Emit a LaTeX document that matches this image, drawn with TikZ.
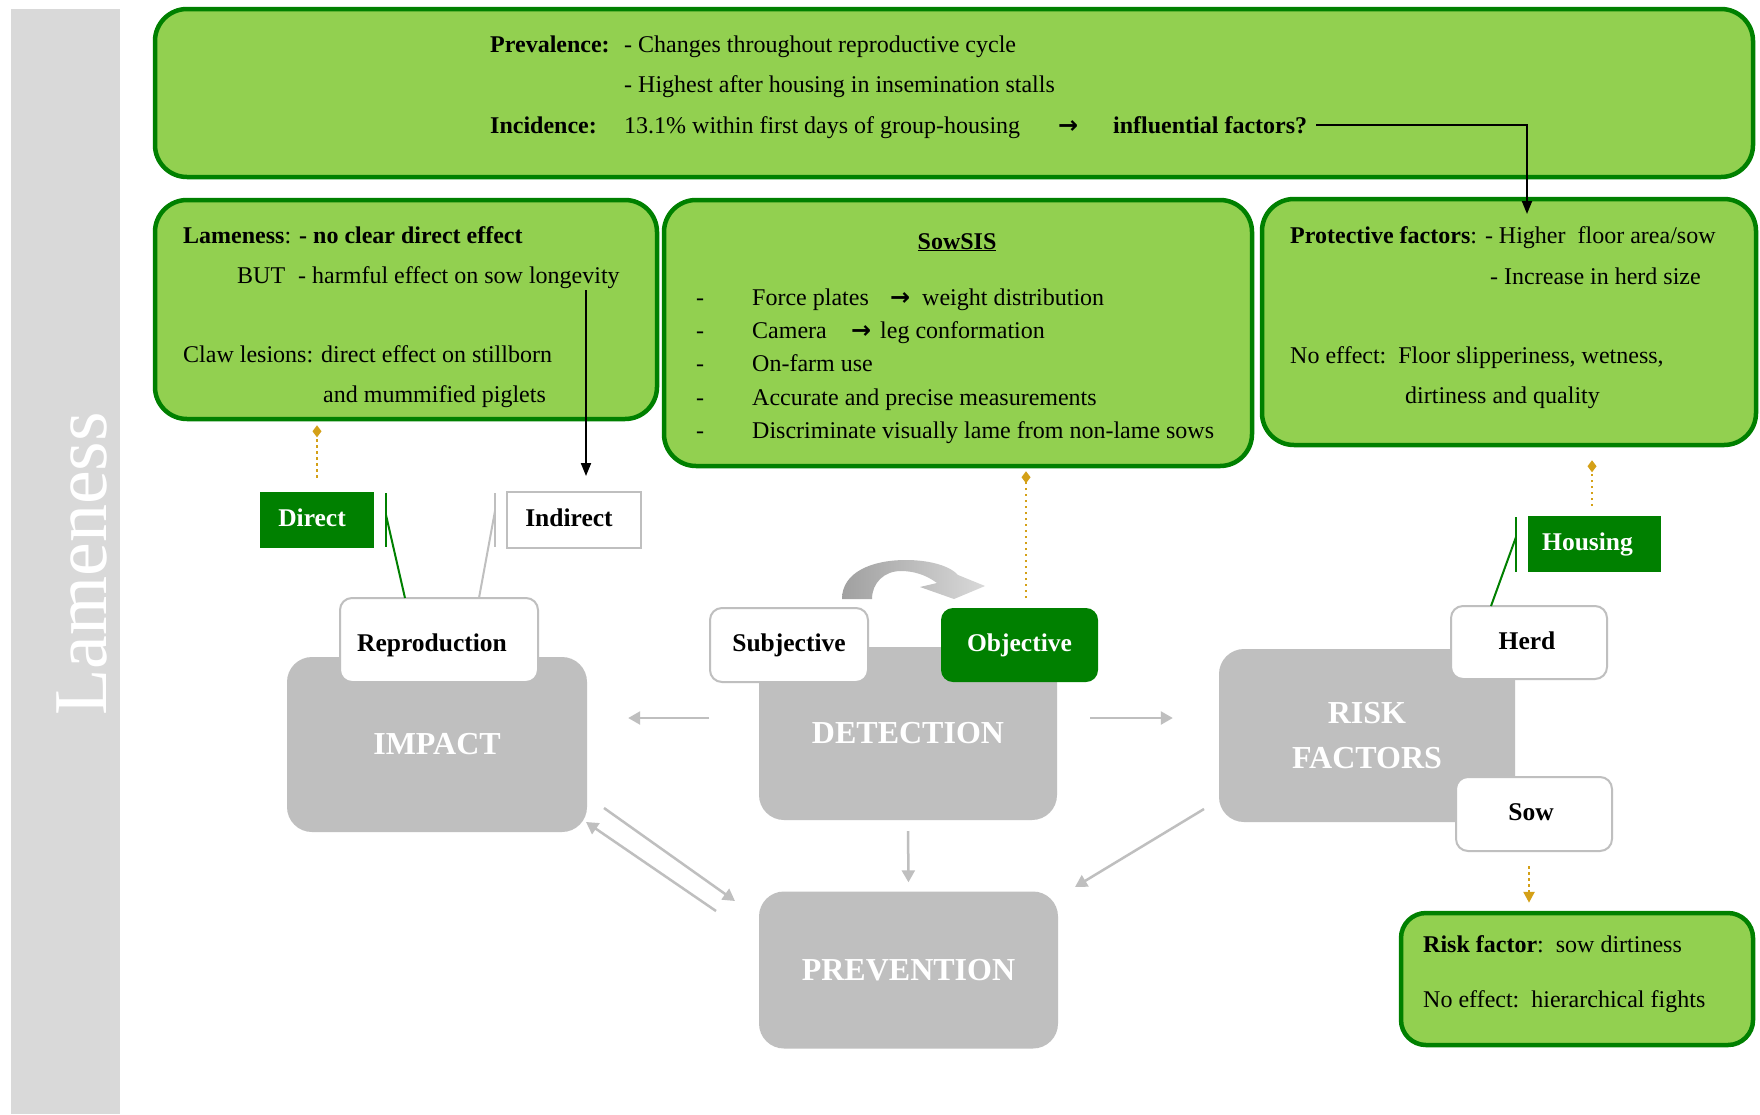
\documentclass[tikz,border=0pt]{standalone}
\usepackage{fontspec}
\setmainfont{Liberation Serif}
\newfontfamily\arrowfont{DejaVu Sans}
\usetikzlibrary{arrows.meta,calc}
\definecolor{lgreen}{RGB}{146,208,80}
\definecolor{dgreen}{RGB}{0,128,0}
\definecolor{boxgrey}{RGB}{191,191,191}
\definecolor{bargrey}{RGB}{217,217,217}
\definecolor{dotorange}{RGB}{212,160,23}
\definecolor{arcdark}{RGB}{160,160,160}
\definecolor{arclight}{RGB}{217,217,217}
\newcommand{\rarr}{{\arrowfont\bfseries →}}
\newcommand{\bodyfnt}{\fontsize{24}{28}\selectfont}
\newcommand{\lblfnt}{\bfseries\fontsize{25.5}{30}\selectfont}
\newcommand{\bigfnt}{\bfseries\fontsize{32}{45}\selectfont}
\begin{document}
\begin{tikzpicture}[x=1pt,y=-1pt,
  every node/.style={inner sep=0pt},
  greenbox/.style={draw=dgreen, fill=lgreen, line width=4.5pt, rounded corners=32pt},
  greybox/.style={fill=boxgrey, rounded corners=25pt, text=white, font=\bigfnt, align=center},
  whitebox/.style={draw=boxgrey, fill=white, line width=2pt, rounded corners=12pt, font=\lblfnt, text height=18pt, text depth=5pt},
  dgbox/.style={fill=dgreen, text=white, font=\lblfnt, text height=18pt, text depth=5pt},
  txt/.style={anchor=base west, font=\bodyfnt},
  btxt/.style={anchor=base west, font=\bodyfnt\bfseries},
  garrow/.style={draw=boxgrey, line width=2.5pt, -{Triangle[length=12pt,width=13pt]}},
  barrow/.style={draw=black, line width=2pt, -{Triangle[length=13pt,width=10pt]}},
  odot/.style={draw=dotorange, line width=2.5pt, dash pattern=on 2.5pt off 3.5pt},
  gconn/.style={draw=dgreen, line width=2pt},
  grconn/.style={draw=boxgrey, line width=2pt}
]
\useasboundingbox (0,0) rectangle (1760,1114);
\fill[white] (0,0) rectangle (1760,1114);

% side bar
\fill[bargrey] (11,9) rectangle (120,1114);
\node[rotate=90, text=white, font=\fontsize{76}{76}\selectfont] (lamtitle) at (82,564) {Lameness};

% green information boxes
\node[greenbox, minimum width=1598pt, minimum height=168pt] (topb) at (954,93) {};
\node[greenbox, minimum width=502pt, minimum height=219pt] (lamb) at (406,309.5) {};
\node[greenbox, minimum width=588pt, minimum height=266pt] (sowb) at (958,333) {};
\node[greenbox, minimum width=494pt, minimum height=246pt] (protb) at (1509,322) {};
\node[greenbox, rounded corners=25pt, minimum width=352pt, minimum height=132pt] (riskb) at (1577,979) {};

% top box text
\node[btxt] (t1) at (490,52) {Prevalence:};
\node[txt] (t2) at (624,52) {- Changes throughout reproductive cycle};
\node[txt] (t3) at (624,92) {- Highest after housing in insemination stalls};
\node[btxt] (t4) at (490,133) {Incidence:};
\node[txt] (t5) at (624,133) {13.1\% within first days of group-housing};
\node[txt] (t6) at (1058,133) {\rarr};
\node[btxt] (inf) at (1113,133) {influential factors?};

% lameness box text
\node[txt] (t7) at (183,243) {\textbf{Lameness}: \textbf{- no clear direct effect}};
\node[txt] (t8) at (237,283) {BUT};
\node[txt] (t9) at (298,283) {- harmful effect on sow longevity};
\node[txt] (t10) at (183,362) {Claw lesions: direct effect on stillborn};
\node[txt] (t11) at (323,402) {and mummified piglets};

% SowSIS box text
\node[anchor=base, font=\bodyfnt\bfseries] (t12) at (957,249) {\underline{SowSIS}};
\node[txt] (d1) at (696,305) {-};
\node[txt] (d2) at (696,338) {-};
\node[txt] (d3) at (696,371) {-};
\node[txt] (d4) at (696,405) {-};
\node[txt] (d5) at (696,438) {-};
\node[txt] (s1) at (752,305) {Force plates};
\node[txt] (s1a) at (890,305) {\rarr};
\node[txt] (s1b) at (922,305) {weight distribution};
\node[txt] (s2) at (752,338) {Camera};
\node[txt] (s2a) at (851,338) {\rarr};
\node[txt] (s2b) at (880,338) {leg conformation};
\node[txt] (s3) at (752,371) {On-farm use};
\node[txt] (s4) at (752,405) {Accurate and precise measurements};
\node[txt] (s5) at (752,438) {Discriminate visually lame from non-lame sows};

% protective box text
\node[txt] (p1) at (1290,243) {\textbf{Protective factors}: - Higher\ \ floor area/sow};
\node[txt] (p2) at (1490,284) {- Increase in herd size};
\node[txt] (p3) at (1290,363) {No effect:\ \ Floor slipperiness, wetness,};
\node[txt] (p4) at (1405,403) {dirtiness and quality};

% risk factor box text
\node[txt] (r1) at (1423,952) {\textbf{Risk factor}:\ \ sow dirtiness};
\node[txt] (r2) at (1423,1007) {No effect:\ \ hierarchical fights};

% grey main boxes
\node[greybox, minimum width=300pt, minimum height=175pt] (imp) at (437,744.5) {IMPACT};
\node[greybox, minimum width=298pt, minimum height=173pt] (det) at (908,733.5) {DETECTION};
\node[greybox, minimum width=296pt, minimum height=173pt] (rf) at (1367,735.5) {RISK\\FACTORS};
\node[greybox, minimum width=299pt, minimum height=157pt] (prev) at (908.5,970) {PREVENTION};

% sub boxes
\node[whitebox, text height=25pt, text depth=2pt, minimum width=198pt, minimum height=84pt] (rep) at (439,640) {\hspace*{-14pt}Reproduction};
\node[whitebox, minimum width=158pt, minimum height=74pt] (sub) at (789,645) {Subjective};
\node[dgbox, rounded corners=12pt, minimum width=157pt, minimum height=74pt] (obj) at (1019.5,645) {Objective};
\node[whitebox, minimum width=156pt, minimum height=73pt] (herd) at (1529,642.5) {\hspace*{-4pt}Herd};
\node[whitebox, minimum width=156pt, minimum height=74pt] (sow) at (1534,814) {\hspace*{-6pt}Sow};
\node[dgbox, minimum width=114pt, minimum height=56pt] (dir) at (317,520) {\hspace*{-10pt}Direct};
\node[whitebox, rounded corners=0pt, minimum width=134pt, minimum height=56pt] (ind) at (574,520) {\hspace*{-10pt}Indirect};
\node[dgbox, minimum width=133pt, minimum height=56pt] (hous) at (1594.5,544) {\hspace*{-14pt}Housing};

% curved arrow subjective -> objective
\shade[left color=arcdark, right color=arclight]
  (842,599) .. controls (842,572) and (872,560) .. (906,560)
  .. controls (930,560) and (950,566) .. (958,575)
  -- (985,586) -- (954,599) -- (920,587) -- (937,583)
  .. controls (925,574) and (912,571) .. (901,571)
  .. controls (884,571) and (872,583) .. (872,599) -- cycle;

% grey flow arrows
\draw[garrow, shorten >=41pt] (sub.west |- 0,718) -- (imp.east |- 0,718);
\draw[garrow, shorten <=33pt, shorten >=46pt] (det.east |- 0,718) -- (rf.west |- 0,718);
\draw[garrow, shorten <=11pt, shorten >=9pt] (det.south) -- (prev.north);
\coordinate (ip1) at (604,808);
\coordinate (ip2) at (735,901);
\coordinate (pi1) at (716,911);
\coordinate (pi2) at (586,822);
\coordinate (rp1) at (1204,809);
\coordinate (rp2) at (1075,887);
\draw[garrow] (ip1) -- (ip2);
\draw[garrow] (pi1) -- (pi2);
\draw[garrow] (rp1) -- (rp2);

% black arrows
\coordinate (infend) at (1527,214);
\draw[barrow] ([xshift=9pt]inf.east) -| (infend);
\coordinate (longx) at (586,290);
\draw[barrow, shorten >=15pt] (longx) -- (longx |- ind.north);

% orange dotted connectors
\draw[odot, shorten <=14pt, shorten >=4pt, -{Diamond[length=12pt,width=9pt]}] (dir.north) -- (dir.north |- lamb.south);
\coordinate (objtop) at (1026,608);
\draw[odot, shorten <=10pt, shorten >=3pt, -{Diamond[length=12pt,width=9pt]}] (objtop) -- (objtop |- sowb.south);
\coordinate (houstop) at (1592,516);
\draw[odot, shorten <=10pt, shorten >=13pt, -{Diamond[length=12pt,width=9pt]}] (houstop) -- (houstop |- protb.south);
\coordinate (sowbot) at (1529,852);
\draw[odot, shorten <=14pt, shorten >=8pt, -{Triangle[length=11pt,width=11pt]}] (sowbot) -- (sowbot |- riskb.north);

% bracket connectors
\coordinate (db1) at (386,493);
\coordinate (db2) at (386,547);
\coordinate (db3) at (386,515);
\coordinate (db4) at (405,598);
\draw[gconn] (db1) -- (db2);
\draw[gconn] (db3) -- (db4);
\coordinate (ib1) at (495,493);
\coordinate (ib2) at (495,547);
\coordinate (ib3) at (495,511);
\coordinate (ib4) at (479,598);
\draw[grconn] (ib1) -- (ib2);
\draw[grconn] (ib3) -- (ib4);
\coordinate (hb1) at (1516,517);
\coordinate (hb2) at (1516,572);
\coordinate (hb3) at (1516,537);
\coordinate (hb4) at (1491,606);
\draw[gconn] (hb1) -- (hb2);
\draw[gconn] (hb3) -- (hb4);
\end{tikzpicture}
\end{document}
